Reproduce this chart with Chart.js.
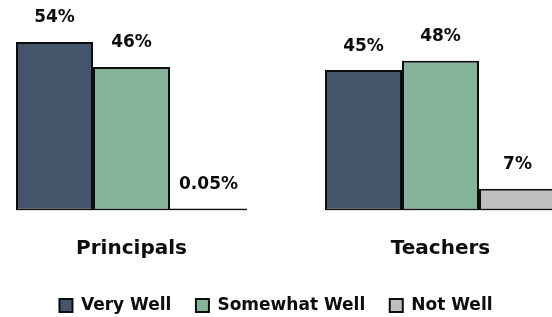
<!DOCTYPE html>
<html>
<head>
<meta charset="utf-8">
<script src="https://cdn.jsdelivr.net/npm/chart.js@4/dist/chart.umd.min.js"></script>
<style>
  html, body { margin: 0; padding: 0; background: #fff; overflow: hidden; width: 552px; height: 317px; }
  #wrap { position: absolute; left: -43px; top: 0; width: 638px; height: 324px; }
</style>
</head>
<body>
<div id="wrap"><canvas id="c"></canvas></div>
<script>
const categories = ['Principals', 'Teachers'];
const seriesNames = ['Very Well', 'Somewhat Well', 'Not Well'];
const veryWell = [54, 45];
const somewhatWell = [46, 48];
const notWell = [0.05, 7];
const seriesColors = ['#44546a', '#83b49a', '#bfbfbf'];

const FONT = "'DejaVu Sans', sans-serif";
const INK = '#0d0d0d';

const valueLabels = {
  id: 'valueLabels',
  afterDatasetsDraw(chart) {
    const ctx = chart.ctx;
    ctx.save();
    ctx.font = 'bold 17px ' + FONT;
    ctx.fillStyle = INK;
    ctx.textAlign = 'center';
    ctx.textBaseline = 'middle';
    chart.data.datasets.forEach((ds, di) => {
      const meta = chart.getDatasetMeta(di);
      meta.data.forEach((el, i) => {
        ctx.fillText(ds.data[i] + '%', el.x, el.y - 24);
      });
    });
    ctx.restore();
  }
};

new Chart(document.getElementById('c'), {
  type: 'bar',
  data: {
    labels: categories,
    datasets: [
      { label: seriesNames[0], data: veryWell, backgroundColor: seriesColors[0] },
      { label: seriesNames[1], data: somewhatWell, backgroundColor: seriesColors[1] },
      { label: seriesNames[2], data: notWell, backgroundColor: seriesColors[2], minBarLength: 2 }
    ]
  },
  options: {
    responsive: true,
    maintainAspectRatio: false,
    animation: false,
    devicePixelRatio: 1,
    layout: { padding: { top: 23.3, left: 0, right: 0, bottom: 0 } },
    datasets: {
      bar: {
        categoryPercentage: 0.7476,
        barPercentage: 1,
        borderColor: INK,
        borderWidth: 2,
        borderSkipped: false,
        inflateAmount: 0
      }
    },
    scales: {
      x: {
        grid: { display: false },
        border: { display: false },
        ticks: { color: INK, font: { family: FONT, size: 20, weight: 'bold' }, padding: 18, maxRotation: 0 },
        afterFit: (s) => { s.height = 62; }
      },
      y: {
        min: 0, max: 60,
        grid: { display: false },
        border: { display: false },
        ticks: { display: false },
        afterFit: (s) => { s.width = 20; }
      }
    },
    plugins: {
      tooltip: { enabled: false },
      legend: {
        position: 'bottom',
        labels: {
          color: INK,
          font: { family: FONT, size: 17, weight: 'bold' },
          boxWidth: 13,
          boxHeight: 13,
          padding: 24.5
        }
      }
    }
  },
  plugins: [valueLabels]
});
</script>
</body>
</html>
